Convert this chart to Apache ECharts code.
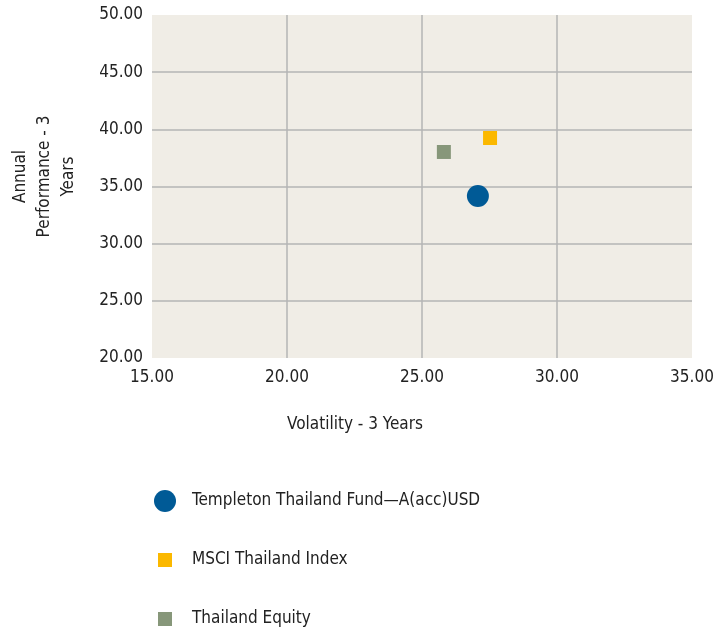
<!DOCTYPE html>
<html>
<head>
<meta charset="utf-8">
<script src="https://cdn.jsdelivr.net/npm/echarts@6/dist/echarts.min.js"></script>
<style>
  html, body { margin: 0; padding: 0; background: #fff; }
  #chart { width: 717px; height: 632px; }
</style>
</head>
<body>
<div id="chart"></div>
<script>
// values (volatility %, annual performance %)
const seriesNames = ['Templeton Thailand Fund\u2014A(acc)USD', 'MSCI Thailand Index', 'Thailand Equity']
const volatility = [27.07, 27.52, 25.81]
const performance = [34.17, 39.24, 38.02]
const colors = ['#005a96', '#fbb800', '#87977a']
const symbols = ['circle', 'rect', 'rect']
const symbolSizes = [22, 14, 14]

const xTicks = { min: 15, max: 35, step: 5 }
const yTicks = { min: 20, max: 50, step: 5 }

const font = '"DejaVu Sans Condensed", "Liberation Sans Narrow", sans-serif'

let myChart = echarts.init(document.getElementById('chart'))

const series = seriesNames.map((name, i) => ({
  name: name,
  type: 'scatter',
  data: [[volatility[i], performance[i]]],
  symbol: symbols[i],
  symbolSize: symbolSizes[i],
  itemStyle: { color: colors[i], opacity: 1 },
  z: i === 0 ? 3 : 2
}))

// one legend per item so each icon keeps its own size
const legendCenters = [501, 560, 619]
const legends = seriesNames.map((name, i) => ({
  data: [{ name: name, icon: symbols[i] === 'circle' ? 'circle' : 'rect' }],
  left: 165 - symbolSizes[i] / 2,
  top: legendCenters[i] - 16,
  padding: 0,
  itemWidth: symbolSizes[i],
  itemHeight: symbolSizes[i],
  itemGap: 0,
  selectedMode: false,
  textStyle: {
    fontFamily: font, fontSize: 17, color: '#222', lineHeight: 20,
    padding: [12, 0, 0, 192 - (165 + symbolSizes[i] / 2) - 5]
  }
}))

const option = {
  animation: false,
  textStyle: { fontFamily: font },
  grid: {
    left: 152, top: 15, width: 540, height: 343,
    outerBoundsMode: 'none', containLabel: false,
    show: true, backgroundColor: '#f0ede6', borderWidth: 0
  },
  legend: legends,
  xAxis: {
    type: 'value',
    min: xTicks.min, max: xTicks.max, interval: xTicks.step,
    name: 'Volatility - 3 Years',
    nameLocation: 'middle',
    nameGap: 58,
    nameTextStyle: { fontFamily: font, fontSize: 17, color: '#222', padding: [0, 134, 0, 0] },
    axisLine: { show: false },
    axisTick: { show: false },
    axisLabel: {
      fontFamily: font, fontSize: 17, color: '#222', margin: 11,
      formatter: v => v.toFixed(2)
    },
    splitLine: { show: true, showMinLine: false, showMaxLine: false, lineStyle: { color: '#b4b4b4', width: 1.5 } }
  },
  yAxis: {
    type: 'value',
    min: yTicks.min, max: yTicks.max, interval: yTicks.step,
    name: 'Annual\nPerformance - 3\nYears',
    nameLocation: 'middle',
    nameGap: 71,
    nameTextStyle: { fontFamily: font, fontSize: 17, color: '#222', lineHeight: 24, align: 'center', padding: [0, 0, 0, 20] },
    axisLine: { show: false },
    axisTick: { show: false },
    axisLabel: {
      fontFamily: font, fontSize: 17, color: '#222', margin: 9,
      formatter: v => v.toFixed(2)
    },
    splitLine: { show: true, showMinLine: false, showMaxLine: false, lineStyle: { color: '#b4b4b4', width: 1.5 } }
  },
  series: series
}

option && myChart.setOption(option)
</script>
</body>
</html>
